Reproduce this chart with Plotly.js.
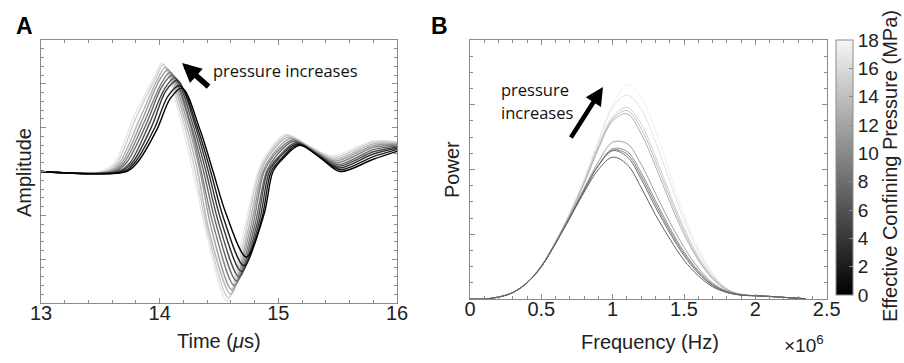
<!DOCTYPE html>
<html><head><meta charset="utf-8">
<script src="https://cdn.plot.ly/plotly-3.0.1.min.js"></script>
<style>html,body{margin:0;padding:0;background:#fff}#chart{width:904px;height:363px}</style>
</head><body><div id="chart"></div><script>
// Effective confining pressure (MPa) for each recorded trace
const pressures = [0, 2, 4, 6, 8, 10, 12, 14, 16, 18];

// ---- Panel A: waveform key points (time in µs, amplitude in arbitrary units)
const startTime = 13.0, lateTime = 15.8, endTime = 16.0;
const onsetTime     = [13.72, 13.70, 13.67, 13.65, 13.62, 13.60, 13.58, 13.56, 13.53, 13.50];
const earlyTime     = [13.81, 13.79, 13.77, 13.75, 13.72, 13.70, 13.68, 13.66, 13.64, 13.62];
const earlyAmp      = [0.20, 0.20, 0.20, 0.20, 0.20, 0.20, 0.20, 0.20, 0.20, 0.20];
const midTime       = [13.975, 13.955, 13.935, 13.91, 13.89, 13.87, 13.85, 13.83, 13.80, 13.78];
const midAmp        = [0.95, 0.98, 1.04, 1.07, 1.10, 1.13, 1.16, 1.19, 1.22, 1.24];
const upperTime     = [14.09, 14.07, 14.05, 14.04, 14.02, 14.01, 13.99, 13.98, 13.97, 13.96];
const upperAmp      = [1.67, 1.72, 1.83, 1.88, 1.94, 1.99, 2.04, 2.09, 2.15, 2.18];
const peakTime      = [14.19, 14.17, 14.15, 14.13, 14.11, 14.09, 14.07, 14.05, 14.03, 14.02];
const peakAmp       = [1.90, 1.96, 2.08, 2.14, 2.20, 2.26, 2.32, 2.38, 2.44, 2.48];
const fallHalfTime  = [14.34, 14.32, 14.30, 14.28, 14.26, 14.25, 14.23, 14.21, 14.19, 14.17];
const fallHalfAmp   = [0.95, 0.98, 1.04, 1.07, 1.10, 1.13, 1.16, 1.19, 1.22, 1.24];
const fallZero      = [14.45, 14.43, 14.41, 14.39, 14.37, 14.35, 14.34, 14.32, 14.30, 14.28];
const dropTime      = [14.56, 14.54, 14.52, 14.50, 14.48, 14.46, 14.44, 14.42, 14.41, 14.40];
const dropAmp       = [-0.97, -1.08, -1.14, -1.20, -1.25, -1.30, -1.35, -1.40, -1.44, -1.48];
const troughTime    = [14.73, 14.71, 14.69, 14.67, 14.65, 14.63, 14.61, 14.60, 14.58, 14.565];
const troughAmp     = [-1.95, -2.15, -2.28, -2.40, -2.50, -2.60, -2.70, -2.80, -2.88, -2.95];
const climbTime     = [14.88, 14.86, 14.84, 14.82, 14.80, 14.78, 14.76, 14.74, 14.72, 14.70];
const climbAmp      = [-0.97, -1.08, -1.14, -1.20, -1.25, -1.30, -1.35, -1.40, -1.44, -1.48];
const riseZero      = [14.955, 14.94, 14.925, 14.91, 14.90, 14.88, 14.87, 14.855, 14.84, 14.83];
const approachTime  = [15.04, 15.03, 15.01, 15.00, 14.98, 14.96, 14.95, 14.93, 14.92, 14.91];
const approachAmp   = [0.30, 0.31, 0.32, 0.33, 0.35, 0.36, 0.38, 0.39, 0.41, 0.43];
const peak2Time     = [15.18, 15.17, 15.16, 15.15, 15.13, 15.12, 15.10, 15.08, 15.07, 15.06];
const peak2Amp      = [0.60, 0.62, 0.64, 0.66, 0.69, 0.72, 0.75, 0.78, 0.82, 0.85];
const leaveTime     = [15.36, 15.35, 15.34, 15.33, 15.32, 15.30, 15.29, 15.28, 15.26, 15.25];
const leaveAmp      = [0.30, 0.33, 0.36, 0.39, 0.42, 0.46, 0.50, 0.53, 0.57, 0.60];
const dipTime       = [15.52, 15.52, 15.51, 15.50, 15.50, 15.49, 15.48, 15.47, 15.46, 15.45];
const dipAmp        = [0.00, 0.04, 0.08, 0.12, 0.16, 0.20, 0.24, 0.28, 0.32, 0.36];
const lateAmp       = [0.28, 0.34, 0.40, 0.45, 0.50, 0.55, 0.59, 0.63, 0.67, 0.70];
const endAmp        = [0.46, 0.50, 0.53, 0.56, 0.58, 0.60, 0.62, 0.64, 0.66, 0.68];

// ---- Panel B: power spectra (frequency in units of 10^6 Hz)
const freqGrid = [0, 0.1, 0.2, 0.3, 0.4, 0.5, 0.6, 0.7, 0.8, 0.9, 1.0, 1.1, 1.2, 1.3, 1.4, 1.5, 1.6, 1.7, 1.8, 1.9, 2.0, 2.1, 2.2, 2.35];
const powerP0  = [0,0,0.03,0.10,0.25,0.50,0.86,1.25,1.65,2.00,2.19,2.08,1.72,1.30,0.93,0.60,0.36,0.19,0.10,0.06,0.05,0.04,0.025,0.005];
const powerP2  = [0,0,0.03,0.10,0.25,0.50,0.86,1.26,1.68,2.06,2.29,2.20,1.85,1.42,1.02,0.67,0.40,0.21,0.11,0.06,0.05,0.04,0.025,0.005];
const powerP4  = [0,0,0.03,0.10,0.25,0.50,0.86,1.26,1.68,2.06,2.30,2.24,1.90,1.47,1.06,0.70,0.42,0.22,0.11,0.06,0.05,0.04,0.025,0.005];
const powerP6  = [0,0,0.03,0.10,0.25,0.50,0.87,1.27,1.69,2.07,2.32,2.28,1.95,1.52,1.10,0.73,0.44,0.23,0.12,0.07,0.05,0.04,0.025,0.005];
const powerP8  = [0,0,0.03,0.10,0.25,0.50,0.87,1.28,1.71,2.12,2.42,2.40,2.08,1.63,1.19,0.80,0.48,0.25,0.12,0.07,0.05,0.04,0.025,0.005];
const powerP10 = [0,0,0.03,0.10,0.25,0.51,0.88,1.30,1.78,2.32,2.75,2.86,2.55,2.05,1.50,1.00,0.60,0.31,0.14,0.07,0.05,0.04,0.025,0.005];
const powerP12 = [0,0,0.03,0.10,0.25,0.51,0.88,1.31,1.80,2.34,2.78,2.91,2.63,2.13,1.57,1.05,0.63,0.33,0.15,0.07,0.05,0.04,0.025,0.005];
const powerP14 = [0,0,0.03,0.10,0.26,0.51,0.89,1.32,1.82,2.37,2.81,2.96,2.70,2.20,1.63,1.10,0.66,0.35,0.15,0.07,0.05,0.04,0.025,0.005];
const powerP16 = [0,0,0.03,0.10,0.26,0.52,0.89,1.33,1.84,2.42,2.96,3.15,2.93,2.43,1.82,1.22,0.74,0.38,0.16,0.07,0.05,0.04,0.025,0.005];
const powerP18 = [0,0,0.03,0.10,0.26,0.52,0.90,1.33,1.85,2.45,3.00,3.31,3.12,2.60,1.95,1.30,0.80,0.40,0.16,0.07,0.05,0.04,0.025,0.005];
const spectra = [powerP0, powerP2, powerP4, powerP6, powerP8, powerP10, powerP12, powerP14, powerP16, powerP18];

// tick labels
const timeTicks = [13, 14, 15, 16];
const freqTicks = [0, 0.5, 1, 1.5, 2, 2.5];
const freqTickText = ['0', '0.5', '1', '1.5', '2', '2.5'];
const pressureTicks = [0, 2, 4, 6, 8, 10, 12, 14, 16, 18];

// ---------- drawing ----------
const W = 904, H = 363;
const px = v => v / W, py = v => 1 - v / H;
const grayA = p => { const g = Math.round(p / 18 * 232); return `rgb(${g},${g},${g})`; };
const grayB = p => { const g = Math.round(95 + p / 18 * 145); return `rgb(${g},${g},${g})`; };
const FONT = 'Liberation Sans, Arial, sans-serif';
const AX = '#8c8c8c';

const traces = [];
for (let i = pressures.length - 1; i >= 0; i--) {
  traces.push({
    type: 'scatter', mode: 'lines', xaxis: 'x', yaxis: 'y', showlegend: false, hoverinfo: 'skip',
    x: [startTime, onsetTime[i], earlyTime[i], midTime[i], upperTime[i], peakTime[i], fallHalfTime[i], fallZero[i], dropTime[i], troughTime[i], climbTime[i], riseZero[i], approachTime[i], peak2Time[i], leaveTime[i], dipTime[i], lateTime, endTime],
    y: [0, 0, earlyAmp[i], midAmp[i], upperAmp[i], peakAmp[i], fallHalfAmp[i], 0, dropAmp[i], troughAmp[i], climbAmp[i], 0, approachAmp[i], peak2Amp[i], leaveAmp[i], dipAmp[i], lateAmp[i], endAmp[i]],
    line: { color: grayA(pressures[i]), width: 1.4, shape: 'spline', smoothing: 0.9 }
  });
}
for (let i = pressures.length - 1; i >= 0; i--) {
  traces.push({
    type: 'scatter', mode: 'lines', xaxis: 'x2', yaxis: 'y2', showlegend: false, hoverinfo: 'skip',
    x: freqGrid, y: spectra[i],
    line: { color: grayB(pressures[i]), width: 1.0, shape: 'spline', smoothing: 1 }
  });
}
// colour bar carrier
traces.push({
  type: 'scatter', mode: 'markers', xaxis: 'x2', yaxis: 'y2', showlegend: false, hoverinfo: 'skip',
  x: pressures.map(() => null), y: pressures.map(() => null),
  marker: {
    color: pressures, cmin: 0, cmax: 18,
    colorscale: [[0, 'rgb(0,0,0)'], [1, 'rgb(246,246,246)']],
    showscale: true,
    colorbar: {
      x: px(836), xanchor: 'left', xpad: 0, ypad: 0,
      y: py(167.5), yanchor: 'middle', len: 255 / H, lenmode: 'fraction',
      thickness: 17, thicknessmode: 'pixels',
      outlinewidth: 1, outlinecolor: AX,
      tickvals: pressureTicks, ticks: 'inside', ticklen: 4, tickcolor: AX,
      tickfont: { family: FONT, size: 19, color: '#222' }
    }
  }
});

const baseAxis = {
  showgrid: false, zeroline: false, ticks: 'inside', ticklen: 5, tickcolor: AX, tickwidth: 1,
  showline: true, linecolor: AX, linewidth: 1, mirror: 'ticks', fixedrange: true,
  ticklabelstandoff: -8,
  tickfont: { family: FONT, size: 20, color: '#222' }
};

const annotations = [
  { text: '<b>A</b>', x: px(14), y: py(26), xanchor: 'left', yanchor: 'middle', font: { family: FONT, size: 23, color: '#000' } },
  { text: '<b>B</b>', x: px(429), y: py(26), xanchor: 'left', yanchor: 'middle', font: { family: FONT, size: 23, color: '#000' } },
  { text: 'Amplitude', x: px(24), y: py(173), textangle: -90, xanchor: 'center', yanchor: 'middle', font: { family: FONT, size: 20, color: '#222' } },
  { text: 'Time (<i>μ</i>s)', x: px(219), y: py(341), xanchor: 'center', yanchor: 'middle', font: { family: FONT, size: 20, color: '#222' } },
  { text: 'Power', x: px(452), y: py(170), textangle: -90, xanchor: 'center', yanchor: 'middle', font: { family: FONT, size: 20, color: '#222' } },
  { text: 'Frequency (Hz)', x: px(650), y: py(342), xanchor: 'center', yanchor: 'middle', font: { family: FONT, size: 20, color: '#222' } },
  { text: '×10<sup>6</sup>', x: px(782), y: py(344), xanchor: 'left', yanchor: 'middle', font: { family: FONT, size: 19, color: '#222' } },
  { text: 'Effective Confining Pressure (MPa)', x: px(890), y: py(166), textangle: -90, xanchor: 'center', yanchor: 'middle', font: { family: FONT, size: 20, color: '#222' } },
  { text: 'pressure increases', x: px(211), y: py(71), xanchor: 'left', yanchor: 'middle', font: { family: 'Open Sans, sans-serif', size: 16.5, color: '#111' } },
  { text: 'pressure', x: px(499), y: py(89), xanchor: 'left', yanchor: 'middle', font: { family: 'Open Sans, sans-serif', size: 16.5, color: '#111' } },
  { text: 'increases', x: px(499), y: py(112), xanchor: 'left', yanchor: 'middle', font: { family: 'Open Sans, sans-serif', size: 16.5, color: '#111' } },
  { text: '', x: px(182), y: py(63), ax: 28, ay: 25, showarrow: true, arrowhead: 2, arrowsize: 0.7, arrowwidth: 5.5, arrowcolor: '#000' },
  { text: '', x: px(603), y: py(87), ax: -33, ay: 52, showarrow: true, arrowhead: 2, arrowsize: 0.8, arrowwidth: 4.5, arrowcolor: '#000' }
].map(a => Object.assign({ xref: 'paper', yref: 'paper', showarrow: false }, a));

const layout = {
  width: W, height: H, margin: { l: 0, r: 0, t: 0, b: 0 },
  paper_bgcolor: '#fff', plot_bgcolor: '#fff', showlegend: false,
  font: { family: FONT, color: '#222' },
  xaxis: Object.assign({}, baseAxis, {
    domain: [px(41), px(397)], range: [13, 16], tickvals: timeTicks, anchor: 'y',
    minor: { dtick: 0.2, ticks: 'inside', ticklen: 3, tickcolor: AX, showgrid: false }
  }),
  yaxis: Object.assign({}, baseAxis, {
    domain: [py(303), py(40)], range: [-3, 3], dtick: 1, showticklabels: false, anchor: 'x',
    minor: { dtick: 0.2, ticks: 'inside', ticklen: 3, tickcolor: AX, showgrid: false }
  }),
  xaxis2: Object.assign({}, baseAxis, {
    domain: [px(470), px(826.7)], range: [0, 2.5], tickvals: freqTicks, ticktext: freqTickText, anchor: 'y2',
    minor: { dtick: 0.1, ticks: 'inside', ticklen: 3, tickcolor: AX, showgrid: false }
  }),
  yaxis2: Object.assign({}, baseAxis, {
    domain: [py(299), py(40)], range: [0, 4], dtick: 1, showticklabels: false, anchor: 'x2',
    minor: { dtick: 0.25, ticks: 'inside', ticklen: 3, tickcolor: AX, showgrid: false }
  }),
  annotations: annotations
};

Plotly.newPlot('chart', traces, layout, { displayModeBar: false, staticPlot: true });
</script></body></html>
